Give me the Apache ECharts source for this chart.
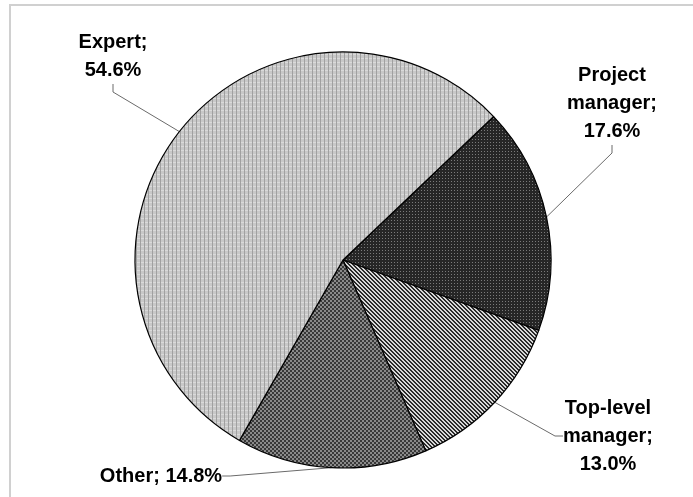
<!DOCTYPE html>
<html><head><meta charset="utf-8">
<script src="https://cdn.jsdelivr.net/npm/echarts@6/dist/echarts.min.js"></script>
<style>html,body{margin:0;padding:0;background:#fff}#c{width:693px;height:497px}</style>
</head><body><div id="c"></div>
<script>
const categories = ['Project manager', 'Top-level manager', 'Other', 'Expert'];
const labelTexts = ['Project\nmanager;\n17.6%', 'Top-level\nmanager;\n13.0%', 'Other; 14.8%', 'Expert;\n54.6%'];
const values = [17.6, 13.0, 14.8, 54.6];

function tile(w, h, draw) {
  const c = document.createElement('canvas'); c.width = w; c.height = h;
  const g = c.getContext('2d'); draw(g); return c;
}
function px(g, x, y, col) { g.fillStyle = col; g.fillRect(x, y, 1, 1); }
const patExpert = tile(4, 4, g => {
  g.fillStyle = '#c8c8c8'; g.fillRect(0, 0, 4, 4);
  g.fillStyle = '#a0a0a0'; g.fillRect(0, 0, 1, 4);
  g.fillStyle = '#dadada'; g.fillRect(1, 2, 3, 1);
});
const patPM = tile(3, 3, g => {
  g.fillStyle = '#262626'; g.fillRect(0, 0, 3, 3);
  px(g, 1, 1, '#7a7a7a');
});
const patTop = tile(4, 4, g => {
  g.fillStyle = '#d8d8d8'; g.fillRect(0, 0, 4, 4);
  for (let i = 0; i < 4; i++) { px(g, i, i, '#2a2a2a'); px(g, (i + 1) % 4, i, '#2a2a2a'); }
});
const patOther = tile(4, 4, g => {
  g.fillStyle = '#8a8a8a'; g.fillRect(0, 0, 4, 4);
  g.fillStyle = '#383838'; g.fillRect(0, 0, 2, 2); g.fillRect(2, 2, 2, 2);
});
const patterns = [patPM, patTop, patOther, patExpert];

const labelPos = [
  { x: 612, y: 103 },
  { x: 608, y: 436 },
  { x: 161, y: 476 },
  { x: 113, y: 56 }
];

const chart = echarts.init(document.getElementById('c'), null, { renderer: 'canvas' });
chart.setOption({
  animation: false,
  graphic: [{
    type: 'polyline', silent: true,
    shape: { points: [[10, 510], [10, 5], [700, 5]] },
    style: { stroke: '#d0d0d0', lineWidth: 2, fill: null }
  }],
  series: [{
    type: 'pie',
    center: [343, 260],
    radius: 208,
    startAngle: 43.6,
    clockwise: true,
    data: categories.map((n, i) => ({
      name: n, value: values[i],
      itemStyle: { color: { image: patterns[i], repeat: 'repeat' } },
      label: { formatter: labelTexts[i] }
    })),
    itemStyle: { borderColor: '#000', borderWidth: 1.2 },
    label: {
      show: true, position: 'outside', color: '#000',
      fontFamily: 'Liberation Sans', fontWeight: 'bold', fontSize: 20, lineHeight: 28
    },
    labelLine: { show: true, length: 20, length2: 8, lineStyle: { color: '#6a6a6a', width: 1 } },
    labelLayout: function (p) {
      const q = labelPos[p.dataIndex];
      return { x: q.x, y: q.y, align: 'center', verticalAlign: 'middle' };
    },
    emphasis: { disabled: true }
  }]
});
</script></body></html>
